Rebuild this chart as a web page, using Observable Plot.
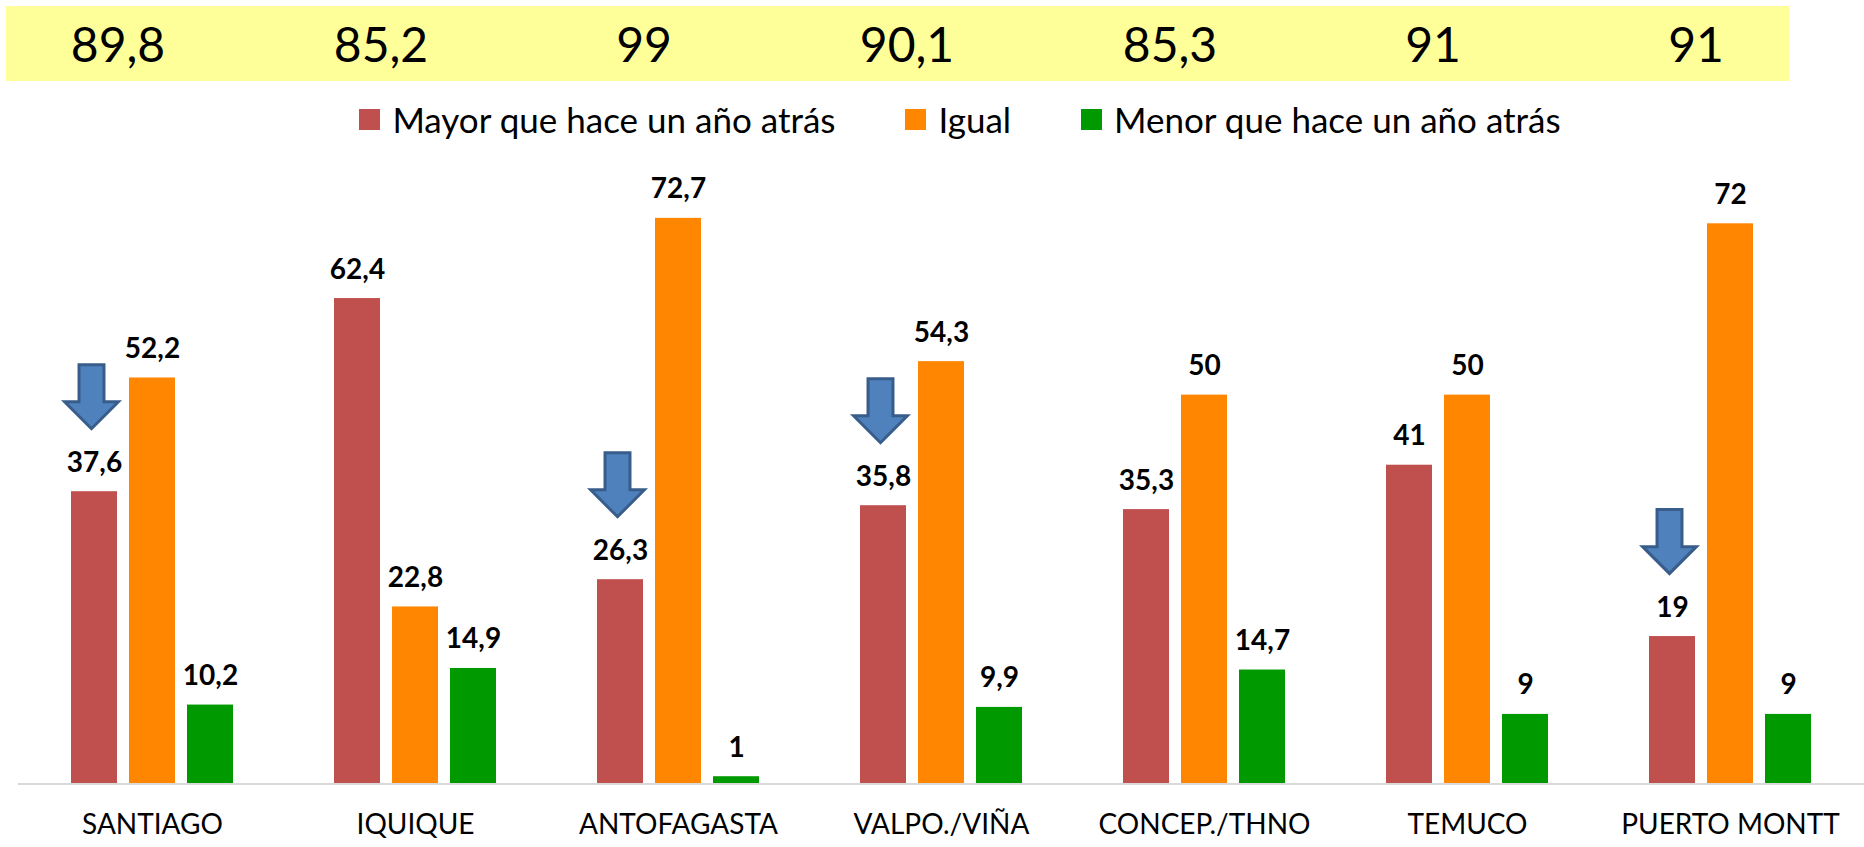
<!DOCTYPE html>
<html>
<head>
<meta charset="utf-8">
<script src="https://cdn.jsdelivr.net/npm/d3@7"></script>
<script src="https://cdn.jsdelivr.net/npm/@observablehq/plot@0.6"></script>
<style>
  body { margin: 0; background: #fff; font-family: Lato, "Open Sans", sans-serif; }
  #wrap { position: relative; width: 1864px; height: 847px; overflow: hidden; }
  #band { position: absolute; left: 6px; top: 6px; width: 1783px; height: 75px; background: #ffff99; }
  .topnum { position: absolute; top: 44px; transform: translate(-50%, -50%); font-size: 48px; line-height: 1; color: #000; white-space: nowrap; }
  #legend { position: absolute; top: 100px; left: 0; width: 1864px; height: 38px; box-sizing: border-box; padding-left: 56px;
            display: flex; justify-content: center; align-items: center; font-size: 35px; color: #000; }
  .item { display: flex; align-items: center; }
  .item + .item { margin-left: 70px; }
  .sw { width: 21px; height: 21px; margin-right: 12px; }
  #chart { position: absolute; top: 140px; left: 0; }
</style>
</head>
<body>
<div id="wrap">
  <div id="band"></div>
  <div id="legend"></div>
  <div id="chart"></div>
</div>
<script>
const cities = ["SANTIAGO", "IQUIQUE", "ANTOFAGASTA", "VALPO./VIÑA", "CONCEP./THNO", "TEMUCO", "PUERTO MONTT"];
const series = ["Mayor que hace un año atrás", "Igual", "Menor que hace un año atrás"];
const mayor = [37.6, 62.4, 26.3, 35.8, 35.3, 41, 19];
const igual = [52.2, 22.8, 72.7, 54.3, 50, 50, 72];
const menor = [10.2, 14.9, 1, 9.9, 14.7, 9, 9];
const topValues = [89.8, 85.2, 99, 90.1, 85.3, 91, 91];
const arrowCities = ["SANTIAGO", "ANTOFAGASTA", "VALPO./VIÑA", "PUERTO MONTT"];
const colors = ["#c0504d", "#ff8600", "#009900"];

const fmt = v => String(v).replace(".", ",");

const rows = cities.flatMap((c, i) => [
  {city: c, series: series[0], value: mayor[i]},
  {city: c, series: series[1], value: igual[i]},
  {city: c, series: series[2], value: menor[i]}
]);
const arrowRows = arrowCities.map(c => ({city: c, series: series[0], value: mayor[cities.indexOf(c)]}));

const arrowSymbol = {
  draw(ctx, size) {
    const r = Math.sqrt(size / Math.PI);
    ctx.moveTo(-0.39 * r, -r);
    ctx.lineTo(0.39 * r, -r);
    ctx.lineTo(0.39 * r, 0.16 * r);
    ctx.lineTo(0.84 * r, 0.16 * r);
    ctx.lineTo(0, r);
    ctx.lineTo(-0.84 * r, 0.16 * r);
    ctx.lineTo(-0.39 * r, 0.16 * r);
    ctx.closePath();
  }
};

const W = 1864, H = 707, mL = 20, mR = 2, mT = 21, mB = 63;

const plot = Plot.plot({
  width: W, height: H,
  marginLeft: mL, marginRight: mR, marginTop: mT, marginBottom: mB,
  style: {fontFamily: "Lato, 'Open Sans', sans-serif", fontSize: "28px", color: "#000", background: "#fff", overflow: "visible"},
  fx: {domain: cities, paddingInner: 0.384, paddingOuter: 0.192, label: null},
  x: {domain: series, paddingInner: 0.21, paddingOuter: 0, axis: null},
  y: {domain: [0, 80], axis: null},
  color: {domain: series, range: colors},
  marks: [
    Plot.barY(rows, {fx: "city", x: "series", y: "value", fill: "series"}),
    Plot.text(rows, {fx: "city", x: "series", y: "value", text: d => fmt(d.value), dy: -29,
      fontWeight: "bold", fontSize: 28, fill: "#000"}),
    Plot.dot(arrowRows, {fx: "city", x: "series", y: "value", dx: -3, dy: -95, r: 32, symbol: arrowSymbol,
      fill: "#4f81bd", stroke: "#385d8a", strokeWidth: 3}),
    Plot.axisFx({anchor: "bottom", tickSize: 0, tickPadding: 30, fontSize: 28, label: null})
  ]
});
document.getElementById("chart").appendChild(plot);

// baseline across the full width, placed with the y scale
const ys = plot.scale("y");
const y0 = ys.apply ? ys.apply(0) : (H - mB);
d3.select(plot).append("line")
  .attr("x1", 18).attr("x2", W).attr("y1", y0).attr("y2", y0)
  .attr("stroke", "#d9d9d9").attr("stroke-width", 2);

// top yellow band numbers, centred via the fx scale
const fxs = plot.scale("fx");
let fxFn, bw;
if (fxs.apply) { fxFn = v => fxs.apply(v); bw = fxs.bandwidth; }
else {
  const b = d3.scaleBand(fxs.domain, fxs.range).paddingInner(0.384).paddingOuter(0.192);
  fxFn = b; bw = b.bandwidth();
}
const wrap = document.getElementById("wrap");
cities.forEach((c, i) => {
  const s = document.createElement("div");
  s.className = "topnum";
  s.textContent = fmt(topValues[i]);
  s.style.left = (fxFn(c) + bw / 2 - 34) + "px";
  wrap.appendChild(s);
});

// legend
const legend = document.getElementById("legend");
series.forEach((s, i) => {
  const it = document.createElement("div");
  it.className = "item";
  it.innerHTML = `<div class="sw" style="background:${colors[i]}"></div><span>${s}</span>`;
  legend.appendChild(it);
});
</script>
</body>
</html>
